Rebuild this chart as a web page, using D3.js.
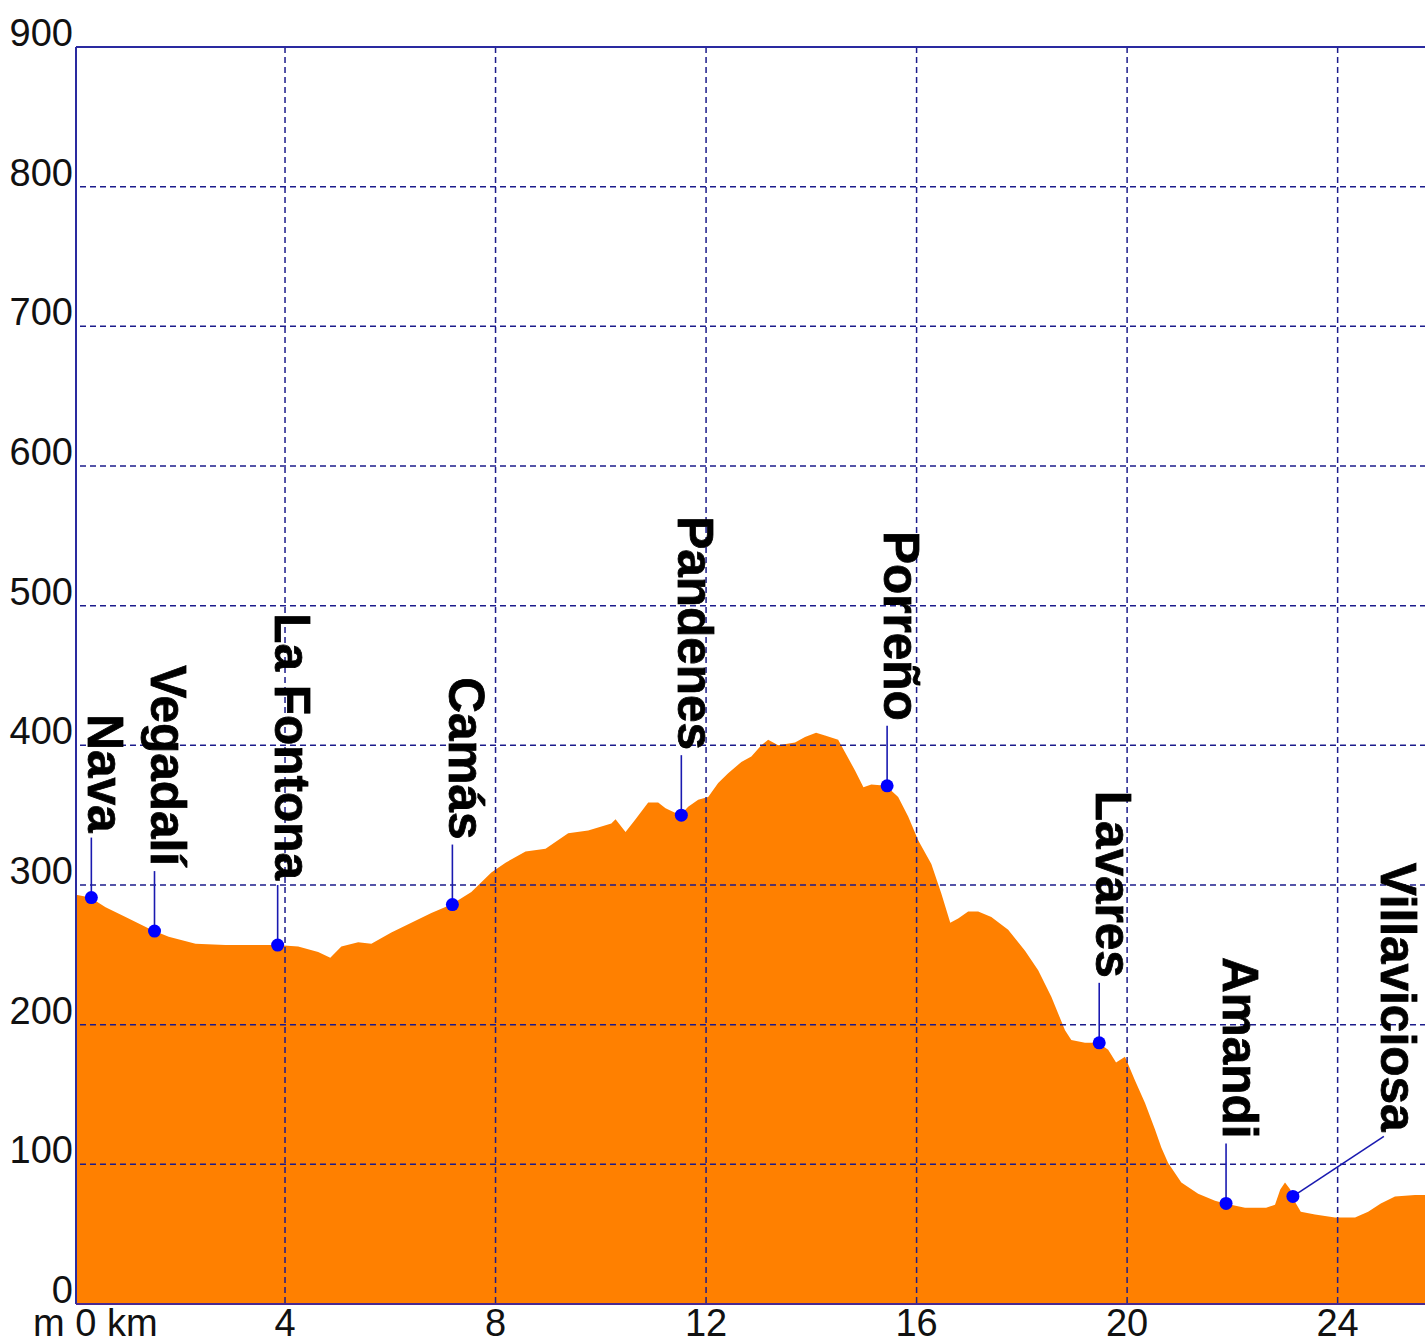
<!DOCTYPE html>
<html>
<head>
<meta charset="utf-8">
<script src="https://cdn.jsdelivr.net/npm/d3@7"></script>
<style>
  html, body { margin: 0; padding: 0; background: #fff; }
  svg { display: block; }
</style>
</head>
<body>
<svg id="chart" width="1425" height="1344"></svg>
<script>
// ---- data ----
const profileKm = [0, 0.30, 0.59, 0.97, 1.46, 1.79, 2.30, 2.87, 3.49, 3.84, 4.25, 4.63, 4.86, 5.07, 5.39, 5.64,
  6.02, 6.40, 6.78, 7.16, 7.54, 7.92, 8.19, 8.57, 8.95, 9.38, 9.76, 10.20, 10.28, 10.47, 10.66, 10.90,
  11.09, 11.23, 11.51, 11.66, 11.85, 12.04, 12.23, 12.42, 12.67, 12.86, 13.05, 13.18, 13.37, 13.69, 13.88,
  14.09, 14.26, 14.51, 14.64, 14.83, 14.99, 15.14, 15.42, 15.65, 15.84, 16.03, 16.28, 16.47, 16.64, 16.79,
  16.98, 17.17, 17.42, 17.74, 18.06, 18.31, 18.56, 18.82, 18.94, 19.20, 19.45, 19.64, 19.79, 19.96, 20.15,
  20.34, 20.53, 20.65, 20.78, 21.03, 21.35, 21.67, 21.86, 22.24, 22.64, 22.81, 22.91, 23.00, 23.10, 23.13,
  23.30, 23.57, 23.95, 24.33, 24.58, 24.82, 25.09, 25.47, 25.66];
const profileElev = [293, 291, 284, 277, 268, 263, 258, 257, 257, 257, 256, 252, 248, 256, 259, 258,
  266, 273, 280, 286, 295, 309, 316, 324, 326, 337, 339, 344, 347, 338, 347, 359,
  359, 355, 350, 356, 361, 363, 373, 380, 388, 392, 400, 404, 400, 402, 406,
  409, 407, 404, 395, 382, 370, 372, 371, 363, 349, 332, 315, 294, 273, 276,
  281, 281, 277, 268, 253, 239, 220, 196, 189, 187, 187, 182, 173, 177, 160,
  144, 125, 112, 101, 87, 79, 74, 72, 69, 69, 71, 82, 87, 82, 77,
  66, 64, 62, 62, 66, 72, 77, 78, 78];

const placeNames = ["Nava", "Vegadalí", "La Fontona", "Camás", "Pandenes", "Porreño", "Lavares", "Amandi", "Villaviciosa"];
const placeKm    = [0.32, 1.52, 3.86, 7.18, 11.53, 15.44, 19.47, 21.88, 23.15];
const placeElev  = [291, 267, 257, 286, 350, 371, 187, 72, 77];

const yTicks = [0, 100, 200, 300, 400, 500, 600, 700, 800, 900];
const xTicks = [4, 8, 12, 16, 20, 24];

// ---- layout ----
const plotLeft = 76, plotTop = 47, plotBottom = 1304, plotRight = 1425;
const svg = d3.select("#chart");
const x = d3.scaleLinear().domain([0, 25.66]).range([74.5, plotRight]);
const y = d3.scaleLinear().domain([0, 900]).range([plotBottom, plotTop]);

const gridColor = "#1c1c8c";
const data = profileKm.map((k, i) => ({ k, e: profileElev[i] }));

// area
svg.append("path")
  .datum(data)
  .attr("fill", "#ff8000")
  .attr("d", d3.area().x(d => Math.max(plotLeft, x(d.k))).y0(y(0)).y1(d => y(d.e)));

// grid
svg.append("g").selectAll("line")
  .data(yTicks.filter(t => t > 0 && t < 900))
  .join("line")
  .attr("x1", plotLeft + 4).attr("x2", plotRight)
  .attr("y1", d => y(d)).attr("y2", d => y(d))
  .attr("stroke", gridColor).attr("stroke-width", 1.5)
  .attr("stroke-dasharray", "6,4");

svg.append("g").selectAll("line")
  .data(xTicks)
  .join("line")
  .attr("x1", d => x(d)).attr("x2", d => x(d))
  .attr("y1", plotTop).attr("y2", plotBottom)
  .attr("stroke", gridColor).attr("stroke-width", 1.5)
  .attr("stroke-dasharray", "6,4");

// frame lines
svg.append("line").attr("x1", plotLeft).attr("x2", plotRight).attr("y1", plotTop).attr("y2", plotTop)
  .attr("stroke", "#2a2aa0").attr("stroke-width", 2);
svg.append("line").attr("x1", plotLeft).attr("x2", plotLeft).attr("y1", plotTop).attr("y2", plotBottom)
  .attr("stroke", "#2a2aa0").attr("stroke-width", 2);
svg.append("line").attr("x1", plotLeft).attr("x2", plotRight).attr("y1", plotBottom).attr("y2", plotBottom)
  .attr("stroke", "#4a2a90").attr("stroke-width", 2);

// y tick labels
svg.append("g").selectAll("text")
  .data(yTicks)
  .join("text")
  .attr("x", 73)
  .attr("y", d => y(d) - 1)
  .attr("text-anchor", "end")
  .attr("font-family", "Liberation Sans, Arial, sans-serif")
  .attr("font-size", 38)
  .attr("fill", "#111")
  .text(d => d);

// x tick labels
svg.append("g").selectAll("text")
  .data(xTicks)
  .join("text")
  .attr("x", d => x(d))
  .attr("y", 1336)
  .attr("text-anchor", "middle")
  .attr("font-family", "Liberation Sans, Arial, sans-serif")
  .attr("font-size", 38)
  .attr("fill", "#111")
  .text(d => d);
svg.append("text")
  .attr("x", 33).attr("y", 1336)
  .attr("font-family", "Liberation Sans, Arial, sans-serif")
  .attr("font-size", 38)
  .attr("fill", "#111")
  .text("m 0 km");

// place markers
const labelShift = { "Villaviciosa": 91 };
const places = placeNames.map((n, i) => ({ n, k: placeKm[i], e: placeElev[i] }));
const pg = svg.append("g");
places.forEach(p => {
  const px = x(p.k), py = y(p.e);
  const lx = px + (labelShift[p.n] || 0);
  const stemTop = py - 60;
  pg.append("line")
    .attr("x1", px).attr("y1", py).attr("x2", lx).attr("y2", stemTop)
    .attr("stroke", "#1a1ab0").attr("stroke-width", 1.6);
  pg.append("circle")
    .attr("cx", px).attr("cy", py).attr("r", 6.5)
    .attr("fill", "#0000ff");
  pg.append("text")
    .attr("transform", `translate(${lx - 3},${py - 65}) rotate(90)`)
    .attr("text-anchor", "end")
    .attr("font-family", "Liberation Sans, Arial, sans-serif")
    .attr("font-weight", "bold")
    .attr("font-size", 49.5)
    .attr("fill", "#000")
    .attr("stroke", "#000")
    .attr("stroke-width", 0.8)
    .text(p.n);
});
</script>
</body>
</html>
